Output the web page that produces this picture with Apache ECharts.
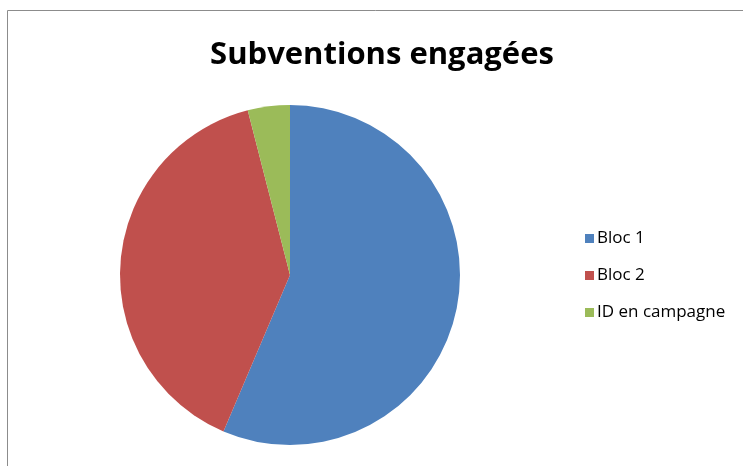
<!DOCTYPE html>
<html>
<head>
<meta charset="utf-8">
<script src="https://cdn.jsdelivr.net/npm/echarts@6/dist/echarts.min.js"></script>
<style>
html, body { margin: 0; padding: 0; background: #fff; }
#main { width: 743px; height: 466px; }
</style>
</head>
<body>
<div id="main"></div>
<script>
const categories = ["Bloc 1", "Bloc 2", "ID en campagne"];
const values = [56.4, 39.6, 4.0];
const colors = ["#4F81BD", "#C0504D", "#9BBB59"];

const mainEl = document.getElementById("main");
let charts = echarts.init(mainEl);

const option = {
    animation: false,
    title: {
        text: "Subventions engagées",
        left: 377,
        top: 35,
        textAlign: "center",
        textStyle: {
            fontFamily: "Open Sans",
            fontWeight: "bold",
            fontSize: 31,
            color: "#000"
        }
    },
    graphic: [
        {
            type: "rect",
            shape: { x: 7.5, y: 10.5, width: 760, height: 480 },
            style: { fill: "none", stroke: "#8c8c8c", lineWidth: 1 },
            silent: true
        }
    ],
    legend: {
        orient: "vertical",
        left: 580,
        top: 225,
        itemWidth: 9,
        itemHeight: 9,
        itemGap: 20,
        icon: "rect",
        data: categories,
        textStyle: {
            fontFamily: "Open Sans",
            fontSize: 17,
            color: "#000",
            padding: [0, 0, 0, -2]
        }
    },
    series: [
        {
            type: "pie",
            center: [290, 275],
            radius: 170,
            startAngle: 90,
            clockwise: true,
            label: { show: false },
            labelLine: { show: false },
            itemStyle: { borderWidth: 0 },
            data: categories.map((name, i) => ({
                name: name,
                value: values[i],
                itemStyle: { color: colors[i] }
            }))
        }
    ]
};

charts.setOption(option);
</script>
</body>
</html>
